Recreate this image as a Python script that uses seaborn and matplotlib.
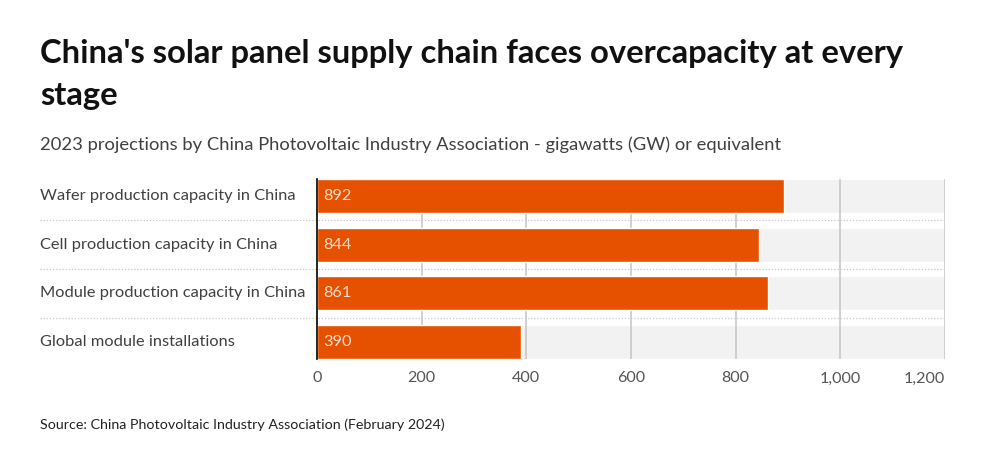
import matplotlib
matplotlib.use("Agg")
import matplotlib.pyplot as plt
import matplotlib.transforms as mtransforms
import seaborn as sns
import pandas as pd

# data
categories = [
    "Wafer production capacity in China",
    "Cell production capacity in China",
    "Module production capacity in China",
    "Global module installations",
]
values = [892, 844, 861, 390]
x_ticks = [0, 200, 400, 600, 800, 1000, 1200]
x_tick_labels = ["0", "200", "400", "600", "800", "1,000", "1,200"]
x_max = 1200

title_lines = ["China's solar panel supply chain faces overcapacity at every", "stage"]
subtitle = "2023 projections by China Photovoltaic Industry Association - gigawatts (GW) or equivalent"
source = "Source: China Photovoltaic Industry Association (February 2024)"

bar_color = "#e65100"
band_color = "#f2f2f2"

sns.set_style("white")
plt.rcParams["font.family"] = ["Lato", "DejaVu Sans"]

df = pd.DataFrame({"category": categories, "value": values})
df["band"] = x_max

fig = plt.figure(figsize=(9.85, 4.67), dpi=100)
ax = fig.add_axes([317 / 985, 1 - 359 / 467, 628 / 985, 180 / 467])

# light grey band behind each bar, gridlines, then bars
sns.barplot(data=df, x="band", y="category", color=band_color, width=0.7,
            saturation=1, ax=ax, zorder=1)
for t in x_ticks[1:]:
    ax.axvline(t, color="#c4c4c4", lw=1.1, zorder=2)
sns.barplot(data=df, x="value", y="category", color=bar_color, width=0.7,
            saturation=1, ax=ax, zorder=3)

ax.set_xlim(0, x_max)
ax.set_ylim(len(categories) - 1 + 0.35, -0.35)
ax.set_xticks(x_ticks)
ax.set_xticklabels(x_tick_labels, fontsize=11.6, color="#555555")
ax.get_xticklabels()[-1].set_horizontalalignment("right")
ax.tick_params(axis="x", length=0, pad=9)
ax.set_yticks([])
ax.set_xlabel("")
ax.set_ylabel("")
for s in ["top", "right", "bottom"]:
    ax.spines[s].set_visible(False)
ax.spines["left"].set_color("black")
ax.spines["left"].set_linewidth(1.2)
ax.spines["left"].set_zorder(5)

# category labels on the left and dotted separators
lbl_x = (40 - 317) / 628
trans = mtransforms.blended_transform_factory(ax.transAxes, ax.transData)
for i, (cat, v) in enumerate(zip(categories, values)):
    ax.text(lbl_x, i, cat, transform=trans, ha="left", va="center",
            fontsize=11.75, color="#404040")
    ax.text(12, i, str(v), ha="left", va="center", fontsize=11.75,
            color="#fddccb", zorder=4)
for i in range(len(categories) - 1):
    ax.plot([lbl_x, 1], [i + 0.5, i + 0.5], transform=trans, clip_on=False,
            color="#c8c8c8", lw=0.9, ls=(0, (1, 1.5)), zorder=2)

for k, line in enumerate(title_lines):
    fig.text(40 / 985, 1 - (63 + 42 * k) / 467, line, ha="left", va="baseline",
             fontsize=23.6, fontweight="bold", color="#111111")
fig.text(40 / 985, 1 - 150 / 467, subtitle, ha="left", va="baseline",
         fontsize=13.2, color="#404040")
fig.text(40 / 985, 1 - 429 / 467, source, ha="left", va="baseline",
         fontsize=10.25, color="#222222")

fig.savefig("out.png", dpi=100)
